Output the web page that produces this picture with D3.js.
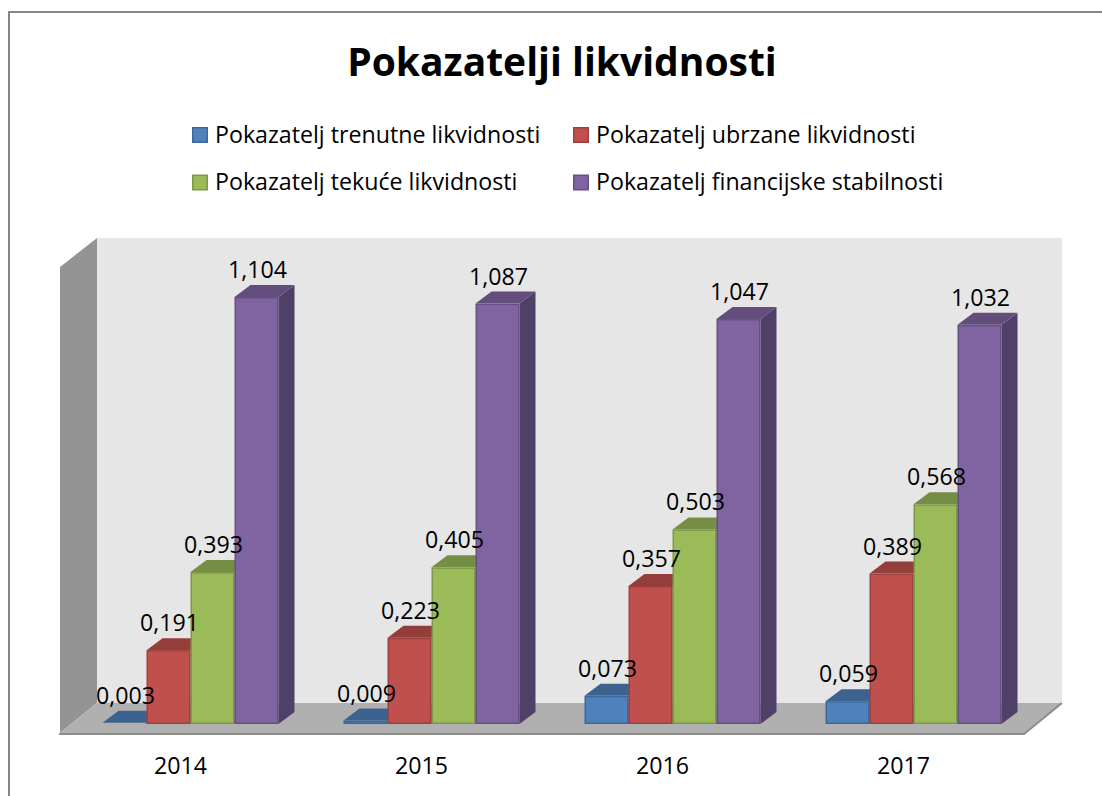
<!DOCTYPE html>
<html>
<head>
<meta charset="utf-8">
<script src="https://cdn.jsdelivr.net/npm/d3@7"></script>
<style>
  html, body { margin: 0; padding: 0; background: #fff; }
  svg { display: block; }
  text { font-family: "Open Sans", sans-serif; fill: #000; }
</style>
</head>
<body>
<svg id="chart" width="1102" height="796"></svg>
<script>
var years = ["2014", "2015", "2016", "2017"];
var seriesNames = ["Pokazatelj trenutne likvidnosti", "Pokazatelj ubrzane likvidnosti", "Pokazatelj tekuće likvidnosti", "Pokazatelj financijske stabilnosti"];
var trenutne = [0.003, 0.009, 0.073, 0.059];
var ubrzane = [0.191, 0.223, 0.357, 0.389];
var tekuce = [0.393, 0.405, 0.503, 0.568];
var stabilnost = [1.104, 1.087, 1.047, 1.032];
var allSeries = [trenutne, ubrzane, tekuce, stabilnost];

var front = ["#4f81bd", "#c0504d", "#9bbb59", "#8064a2"];
var edge = ["#3d679a", "#9c413e", "#7e984a", "#664f83"];
var topFace = ["#3c6390", "#933e3b", "#768e44", "#624d7c"];
var sideFace = ["#315274", "#783330", "#617538", "#503f66"];

var svg = d3.select("#chart");
var fmt = d3.format(".3f");
function comma(v) { return fmt(v).replace(".", ","); }

// frame, only left and top are in the picture
svg.append("path").attr("fill", "none").attr("stroke", "#868686").attr("stroke-width", 2)
  .attr("d", d3.line()([[9, 800], [9, 12], [1104, 12]]));

svg.append("text").attr("x", 562).attr("y", 76).attr("text-anchor", "middle")
  .style("font-size", "39px").style("font-weight", 700).text("Pokazatelji likvidnosti");

// legend
var legX = [190, 571], legY = [135, 182.5];
seriesNames.forEach(function(name, i) {
  var lx = legX[i % 2], ly = legY[Math.floor(i / 2)];
  svg.append("rect").attr("x", lx + 2.75).attr("y", ly - 7.25).attr("width", 14.5).attr("height", 14.5)
    .attr("fill", front[i]).attr("stroke", edge[i]).attr("stroke-width", 1.5);
  svg.append("text").attr("x", lx + 25).attr("y", ly + 7.5).style("font-size", "23.2px").text(name);
});

// walls and floor
var depthX = 37, depthY = 30;
var wallBottom = 703, wallTop = 238, floorLeft = 60, floorRight = 1024, floorY = 733;
svg.append("path").attr("fill", "#e6e6e6")
  .attr("d", d3.line()([[floorLeft + depthX, wallTop], [floorRight + depthX + 1, wallTop], [floorRight + depthX + 1, wallBottom], [floorLeft + depthX, wallBottom]]));
svg.append("path").attr("fill", "#949494")
  .attr("d", d3.line()([[floorLeft, wallTop + depthY - 1], [floorLeft + depthX, wallTop], [floorLeft + depthX, wallBottom], [floorLeft, floorY]]));
svg.append("path").attr("fill", "#b0b0b0")
  .attr("d", d3.line()([[floorLeft, floorY], [floorLeft + depthX, wallBottom], [floorRight + depthX + 1, wallBottom], [floorRight, floorY]]));
svg.append("path").attr("fill", "none").attr("stroke", "#8c8c8c").attr("stroke-width", 2)
  .attr("d", d3.line()([[floorLeft - 1, floorY + 1], [floorRight, floorY + 1], [floorRight + depthX + 1, wallBottom]]));

// scales
var x = d3.scaleBand().domain(years).range([70, 1034]);
var labelX = d3.scaleBand().domain(years).range([60, 1024]);
var inner = d3.scaleBand().domain(d3.range(4)).range([x.bandwidth() / 2 - 88, x.bandwidth() / 2 + 88]);
var y = d3.scaleLinear().domain([0, 1.104]).range([724, 297]);
var dx = 16, dy = 12;

// bars, left to right so neighbours cover the side faces
years.forEach(function(year, g) {
  allSeries.forEach(function(values, s) {
    var v = values[g];
    var x0 = x(year) + inner(s), x1 = x0 + inner.bandwidth();
    var yTop = y(v), yBase = y(0);
    var bar = svg.append("g");
    bar.append("path").attr("fill", sideFace[s])
      .attr("d", d3.line()([[x1, yTop], [x1 + dx, yTop - dy], [x1 + dx, yBase - dy], [x1, yBase]]));
    bar.append("path").attr("fill", topFace[s])
      .attr("d", d3.line()([[x0, yTop], [x0 + dx, yTop - dy], [x1 + dx, yTop - dy], [x1, yTop]]));
    bar.append("rect").attr("x", x0 + 0.75).attr("y", yTop + 0.75)
      .attr("width", x1 - x0 - 1.5).attr("height", Math.max(0, yBase - yTop - 1.5))
      .attr("fill", front[s]).attr("stroke", edge[s]).attr("stroke-width", 1.5);
  });
});

// value labels above everything
years.forEach(function(year, g) {
  allSeries.forEach(function(values, s) {
    var v = values[g];
    svg.append("text").attr("x", x(year) + inner(s) + inner.bandwidth() / 2 + 1)
      .attr("y", y(v) - 19).attr("text-anchor", "middle")
      .style("font-size", "23.2px").text(comma(v));
  });
});

// category labels
years.forEach(function(year) {
  svg.append("text").attr("x", labelX(year) + labelX.bandwidth() / 2).attr("y", 774)
    .attr("text-anchor", "middle").style("font-size", "23.2px").text(year);
});
</script>
</body>
</html>
